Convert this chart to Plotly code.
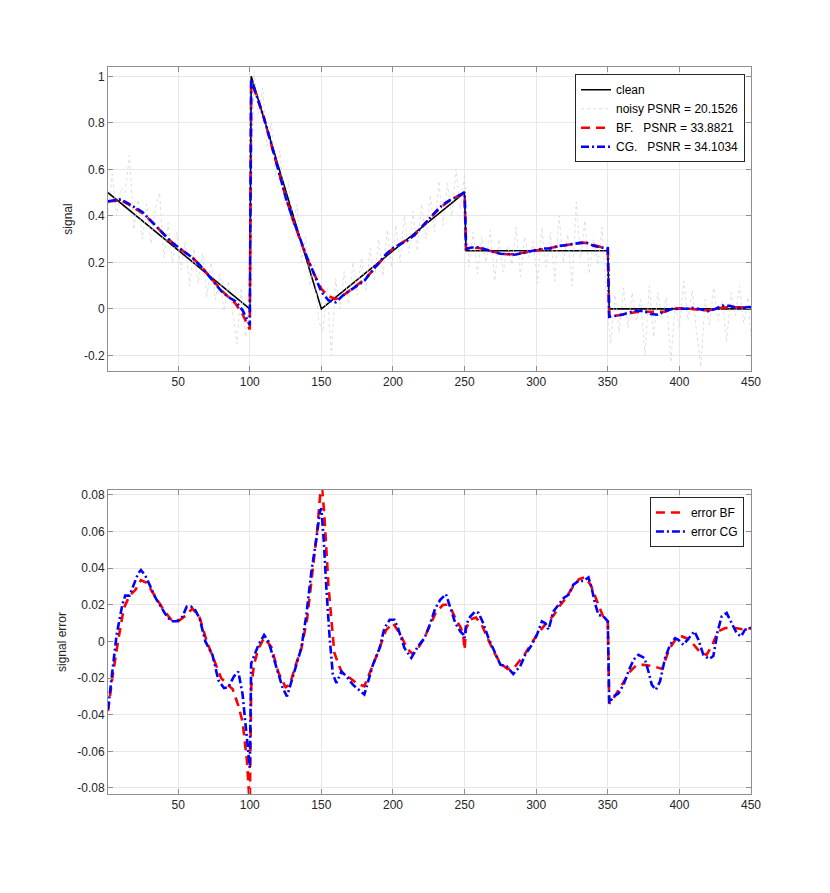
import plotly.graph_objects as go

# clean signal breakpoints
clean_x = [1, 100, 101, 150, 250, 251, 350, 351, 450]
clean_y = [0.5, 0.0, 1.0, 0.0, 0.5, 0.25, 0.25, 0.0, 0.0]

# noisy signal (read every 3 samples)
noisy_x = list(range(1, 449, 3)) + [450]
noisy_y = [
    0.42, 0.58, 0.40, 0.52, 0.50, 0.66, 0.34, 0.47, 0.30, 0.45,
    0.28, 0.43, 0.50, 0.22, 0.37, 0.20, 0.33, 0.17, 0.29, 0.10,
    0.26, 0.11, 0.24, 0.05, 0.20, 0.04, 0.15, -0.01, 0.12, -0.02,
    -0.15, 0.09, -0.12, 0.04, 1.02, 0.84, 0.95, 0.70, 0.80, 0.57,
    0.68, 0.46, 0.55, 0.36, 0.45, 0.20, 0.31, 0.10, 0.19, -0.05,
    -0.10, 0.09, -0.20, 0.13, 0.00, 0.16, 0.02, 0.20, 0.06, 0.22,
    0.08, 0.26, 0.12, 0.30, 0.14, 0.34, 0.18, 0.36, 0.20, 0.40,
    0.24, 0.42, 0.25, 0.45, 0.30, 0.49, 0.33, 0.55, 0.36, 0.54,
    0.40, 0.60, 0.43, 0.58, 0.18, 0.33, 0.15, 0.31, 0.20, 0.34,
    0.12, 0.30, 0.16, 0.27, 0.19, 0.35, 0.14, 0.31, 0.22, 0.29,
    0.11, 0.35, 0.18, 0.33, 0.12, 0.40, 0.20, 0.32, 0.10, 0.46,
    0.22, 0.38, 0.15, 0.30, 0.19, 0.35, 0.05, -0.15, 0.06, -0.10,
    0.09, -0.08, 0.07, -0.05, 0.04, -0.20, 0.10, -0.12, 0.07, -0.04,
    0.05, -0.23, 0.02, -0.08, 0.12, -0.05, 0.08, -0.10, -0.25, 0.04,
    -0.07, 0.09, -0.05, 0.03, -0.14, 0.07, -0.03, 0.10, -0.06, 0.05,
    -0.12,
]

# denoised estimates (top panel)
est_x = [1, 5, 10, 15, 20, 25, 30, 35, 40, 45, 50, 55, 60, 65, 70, 75, 80, 85, 90, 95, 100,
         101, 105, 110, 115, 120, 125, 130, 135, 140, 145, 150, 155, 160, 165, 170, 175, 180,
         185, 190, 195, 200, 205, 210, 215, 220, 225, 230, 235, 240, 245, 250,
         251, 255, 260, 265, 270, 275, 280, 285, 290, 295, 300, 305, 310, 315, 320, 325, 330,
         335, 340, 345, 350, 351, 355, 360, 365, 370, 375, 380, 385, 390, 395, 400, 405, 410,
         415, 420, 425, 430, 435, 440, 445, 450]
bf_y = [0.462, 0.464, 0.467, 0.451, 0.432, 0.412, 0.384, 0.352, 0.320, 0.290, 0.264, 0.241,
        0.220, 0.190, 0.152, 0.116, 0.081, 0.052, 0.023, -0.023, -0.088,
        0.975, 0.914, 0.818, 0.711, 0.595, 0.485, 0.386, 0.300, 0.218, 0.150, 0.086, 0.055,
        0.042, 0.057, 0.080, 0.102, 0.126, 0.159, 0.195, 0.231, 0.260, 0.279, 0.296, 0.318,
        0.350, 0.384, 0.417, 0.445, 0.468, 0.485, 0.496,
        0.257, 0.262, 0.262, 0.254, 0.246, 0.238, 0.235, 0.235, 0.240, 0.246, 0.253, 0.258,
        0.262, 0.268, 0.273, 0.278, 0.284, 0.284, 0.275, 0.266, 0.261,
        -0.034, -0.030, -0.024, -0.017, -0.013, -0.012, -0.013, -0.014, -0.012, 0.000, 0.003,
        0.002, -0.001, -0.005, -0.007, -0.001, 0.006, 0.007, 0.007, 0.007, 0.007]
cg_y = [0.463, 0.467, 0.471, 0.454, 0.435, 0.417, 0.385, 0.353, 0.319, 0.289, 0.265, 0.244,
        0.220, 0.189, 0.151, 0.116, 0.078, 0.051, 0.033, -0.006, -0.069,
        0.988, 0.915, 0.819, 0.711, 0.593, 0.482, 0.387, 0.300, 0.221, 0.149, 0.073, 0.037,
        0.028, 0.058, 0.079, 0.099, 0.121, 0.160, 0.195, 0.234, 0.262, 0.279, 0.294, 0.318,
        0.350, 0.385, 0.419, 0.449, 0.469, 0.483, 0.502,
        0.259, 0.264, 0.265, 0.255, 0.246, 0.237, 0.236, 0.233, 0.239, 0.246, 0.253, 0.260,
        0.260, 0.270, 0.274, 0.280, 0.283, 0.285, 0.272, 0.264, 0.261,
        -0.034, -0.030, -0.025, -0.015, -0.008, -0.009, -0.022, -0.025, -0.009, 0.000, 0.000,
        0.001, 0.005, -0.004, -0.010, 0.000, 0.014, 0.013, 0.005, 0.006, 0.008]

# errors (bottom panel)
err_bf_x = [1, 4, 8, 12, 16, 20, 24, 28, 32, 36, 40, 45, 50, 55, 60, 65, 70, 75, 80, 85, 88,
            92, 95, 98, 100, 101, 103, 106, 110, 115, 120, 125, 128, 132, 136, 140, 144, 147,
            150, 152, 155, 157, 159, 162, 165, 170, 175, 180, 184, 190, 195, 200, 205, 210,
            214, 218, 222, 226, 230, 235, 238, 241, 244, 247, 249, 250, 251, 254, 258, 262,
            266, 270, 275, 280, 284, 288, 292, 296, 300, 304, 308, 312, 316, 320, 325, 330,
            334, 338, 341, 344, 347, 350, 351, 354, 358, 362, 366, 370, 375, 382, 388, 393,
            398, 402, 407, 414, 419, 423, 427, 432, 439, 446, 450]
err_bf = [-0.038, -0.020, 0.000, 0.018, 0.025, 0.028, 0.0335, 0.032, 0.027, 0.022, 0.017,
          0.012, 0.011, 0.014, 0.018, 0.013, 0.000, -0.010, -0.020, -0.024, -0.026,
          -0.035, -0.044, -0.065, -0.090, -0.025, -0.0125, -0.004, 0.002, -0.003, -0.017,
          -0.025, -0.0236, -0.013, -0.004, 0.012, 0.038, 0.060, 0.088, 0.070, 0.030, 0.010,
          -0.006, -0.0127, -0.018, -0.020, -0.023, -0.0245, -0.017, -0.005, 0.006, 0.010,
          0.004, -0.004, -0.007, -0.003, 0.002, 0.009, 0.016, 0.020, 0.020, 0.017, 0.012,
          0.008, 0.004, -0.0045, 0.007, 0.012, 0.013, 0.009, 0.002, -0.005, -0.012, -0.015,
          -0.015, -0.011, -0.007, -0.002, 0.003, 0.007, 0.011, 0.014, 0.019, 0.023, 0.029,
          0.034, 0.035, 0.031, 0.025, 0.018, 0.013, 0.011, -0.034, -0.031, -0.026, -0.021,
          -0.016, -0.013, -0.0127, -0.0136, -0.015, -0.004, 0.0018, 0.0027, 0.001, -0.0055,
          -0.0073, -0.0018, 0.0055, 0.0073, 0.0073, 0.0064, 0.0073]

err_cg_x = [1, 4, 7, 11, 13, 16, 19, 22, 24, 27, 30, 34, 38, 41, 45, 49, 53, 56, 59, 62, 65,
            69, 74, 78, 82, 85, 89, 92, 95, 97, 99, 100, 101, 103, 106, 110, 113, 118, 121,
            123, 126, 129, 133, 136, 139.5, 143, 146.5, 149, 150, 151.6, 153.5, 155.8, 158,
            160.5, 164, 167.4, 172, 176.7, 180, 182.6, 186, 190.7, 194, 197.7, 201, 203.5,
            208, 212.8, 217.4, 222, 225.6, 229.5, 233, 237, 240, 243.5, 247, 249.3, 250, 251,
            254, 257.4, 259.8, 263, 266.7, 271.4, 275, 279.5, 284, 288.8, 292.3, 297, 300.5,
            304, 306.3, 308.6, 312, 315.6, 319, 322.6, 326, 329.5, 333, 336.5, 338.8, 341,
            343.5, 347, 350, 351, 354, 357.4, 361, 364.4, 368, 371.4, 375.6, 378.4, 380.7,
            383.5, 386.5, 390, 393.5, 397, 399.3, 402.8, 406.3, 410.5, 413.3, 416.7, 420.7,
            423.7, 426.7, 429.5, 433, 436.5, 440, 443, 445.8, 450]
err_cg = [-0.037, -0.018, 0.0035, 0.020, 0.025, 0.025, 0.031, 0.037, 0.039, 0.036, 0.031,
          0.024, 0.019, 0.015, 0.011, 0.011, 0.0135, 0.019, 0.019, 0.017, 0.0125, 0.000,
          -0.0075, -0.021, -0.0255, -0.025, -0.019, -0.0165, -0.029, -0.046, -0.062, -0.069,
          -0.012, -0.008, -0.002, 0.0035, 0.000, -0.0125, -0.021, -0.0255, -0.030, -0.022,
          -0.011, -0.0036, 0.0145, 0.038, 0.056, 0.071, 0.0727, 0.056, 0.029, 0.0018,
          -0.018, -0.0227, -0.0164, -0.019, -0.0236, -0.027, -0.029, -0.022, -0.0127,
          -0.0036, 0.0073, 0.0118, 0.0118, 0.0073, -0.0036, -0.009, -0.0027, 0.0018, 0.009,
          0.018, 0.0227, 0.0258, 0.019, 0.010, 0.0055, 0.0036, 0.0018, 0.009, 0.0136, 0.0164,
          0.0155, 0.010, 0.0018, -0.0064, -0.0127, -0.0136, -0.0178, -0.0136, -0.0073,
          -0.0018, 0.0036, 0.011, 0.010, 0.0064, 0.0164, 0.020, 0.0236, 0.0255, 0.031, 0.033,
          0.033, 0.035, 0.029, 0.021, 0.0145, 0.0136, 0.011, -0.0336, -0.030, -0.0285,
          -0.0236, -0.0164, -0.010, -0.0073, -0.009, -0.0164, -0.0236, -0.0264, -0.0218,
          -0.009, -0.0018, 0.0018, 0.0009, -0.0018, 0.0018, 0.0055, 0.0009, -0.0073, -0.0096,
          -0.008, 0.0055, 0.0136, 0.0155, 0.010, 0.0045, 0.0027, 0.0064, 0.0075]

x_ticks = [50, 100, 150, 200, 250, 300, 350, 400, 450]
top_ticks = [-0.2, 0, 0.2, 0.4, 0.6, 0.8, 1]
top_tick_text = ["-0.2", "0", "0.2", "0.4", "0.6", "0.8", "1"]
bot_ticks = [-0.08, -0.06, -0.04, -0.02, 0, 0.02, 0.04, 0.06, 0.08]
bot_tick_text = ["-0.08", "-0.06", "-0.04", "-0.02", "0", "0.02", "0.04", "0.06", "0.08"]

nb = "\u00a0"
names = ["clean", "noisy PSNR = 20.1526", "BF." + nb * 3 + "PSNR = 33.8821",
         "CG." + nb * 3 + "PSNR = 34.1034"]

FONT = "Liberation Sans, Arial, sans-serif"
BF_DASH = "9px,6px"
CG_DASH = "8px,3px,2px,3px"

fig = go.Figure()

fig.add_trace(go.Scatter(x=clean_x, y=clean_y, mode="lines", name=names[0],
                         line=dict(color="black", width=1.6), xaxis="x", yaxis="y",
                         legend="legend"))
fig.add_trace(go.Scatter(x=noisy_x, y=noisy_y, mode="lines", name=names[1],
                         line=dict(color="#d6d6d6", width=0.8, dash="dot"), xaxis="x", yaxis="y",
                         legend="legend"))
fig.add_trace(go.Scatter(x=est_x, y=bf_y, mode="lines", name=names[2],
                         line=dict(color="red", width=2.6, dash=BF_DASH), xaxis="x", yaxis="y",
                         legend="legend"))
fig.add_trace(go.Scatter(x=est_x, y=cg_y, mode="lines", name=names[3],
                         line=dict(color="blue", width=2.6, dash=CG_DASH), xaxis="x", yaxis="y",
                         legend="legend"))

fig.add_trace(go.Scatter(x=err_bf_x, y=err_bf, mode="lines", name="error BF",
                         line=dict(color="red", width=2.6, dash=BF_DASH), xaxis="x2", yaxis="y2",
                         legend="legend2"))
fig.add_trace(go.Scatter(x=err_cg_x, y=err_cg, mode="lines", name="error CG",
                         line=dict(color="blue", width=2.6, dash=CG_DASH), xaxis="x2", yaxis="y2",
                         legend="legend2"))

axis_style = dict(showline=True, linecolor="#8f8f8f", linewidth=1, mirror="ticks",
                  ticks="inside", ticklen=5, tickcolor="#8f8f8f", showgrid=True,
                  gridcolor="#e8e8e8", gridwidth=1, zeroline=False, automargin=False,
                  tickfont=dict(family=FONT, size=12, color="#262626"))

# the page body adds an 8px offset, so margins are shifted to compensate
fig.update_layout(
    width=830, height=893,
    margin=dict(l=100, r=87, t=59, b=107),
    paper_bgcolor="white", plot_bgcolor="white",
    font=dict(family=FONT, size=12, color="#262626"),
    xaxis=dict(domain=[0, 1], range=[1, 450], tickvals=x_ticks,
               anchor="y", **axis_style),
    yaxis=dict(domain=[0.5818, 1], range=[-0.267, 1.04], tickvals=top_ticks,
               ticktext=top_tick_text, anchor="x",
               title=dict(text="signal", font=dict(size=12), standoff=8), **axis_style),
    xaxis2=dict(domain=[0, 1], range=[1, 450], tickvals=x_ticks,
                anchor="y2", **axis_style),
    yaxis2=dict(domain=[0, 0.4182], range=[-0.0833, 0.0827], tickvals=bot_ticks,
                ticktext=bot_tick_text, anchor="x2",
                title=dict(text="signal error", font=dict(size=12), standoff=8), **axis_style),
    legend=dict(x=0.9907, y=0.990, xanchor="right", yanchor="top",
                bgcolor="white", bordercolor="#262626", borderwidth=1,
                font=dict(family=FONT, size=12, color="black"),
                itemwidth=30, tracegroupgap=0),
    legend2=dict(x=0.989, y=0.4085, xanchor="right", yanchor="top",
                 bgcolor="white", bordercolor="#262626", borderwidth=1,
                 font=dict(family=FONT, size=12, color="black"),
                 itemwidth=30, tracegroupgap=0),
    showlegend=True,
)

fig.write_html("out.html")
